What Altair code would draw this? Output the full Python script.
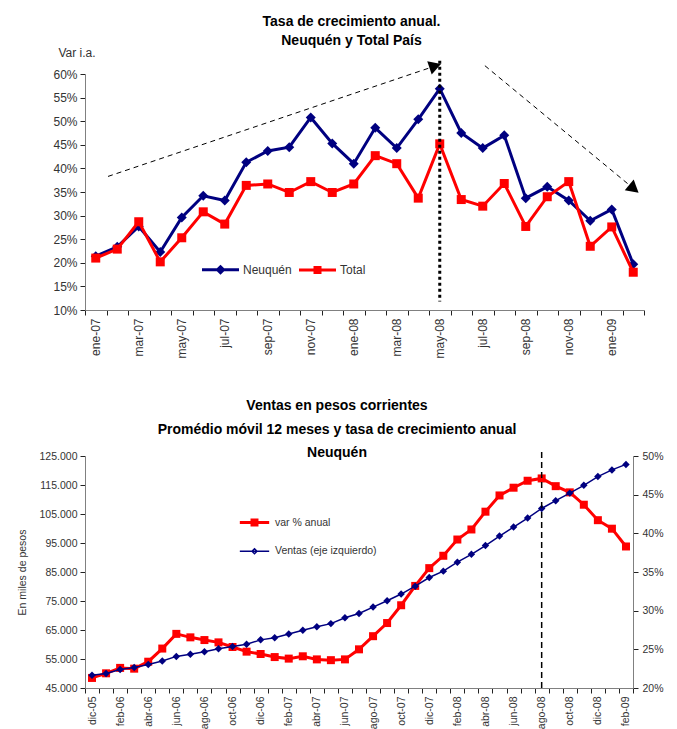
import json
import altair as alt
import pandas as pd

# ---------------- Top chart data ----------------
top_months = ["ene-07", "feb-07", "mar-07", "abr-07", "may-07", "jun-07", "jul-07", "ago-07",
              "sep-07", "oct-07", "nov-07", "dic-07", "ene-08", "feb-08", "mar-08", "abr-08",
              "may-08", "jun-08", "jul-08", "ago-08", "sep-08", "oct-08", "nov-08", "dic-08",
              "ene-09", "feb-09"]
top_tick_labels = ["ene-07", "mar-07", "may-07", "jul-07", "sep-07", "nov-07", "ene-08",
                   "mar-08", "may-08", "jul-08", "sep-08", "nov-08", "ene-09"]
neuquen = [21.4, 23.4, 27.7, 22.3, 29.6, 34.2, 33.2, 41.3, 43.7, 44.5, 50.8, 45.3, 41.0,
           48.6, 44.3, 50.4, 56.9, 47.5, 44.3, 47.0, 33.7, 36.1, 33.2, 28.9, 31.3, 19.7]
total_pais = [21.0, 22.9, 28.7, 20.2, 25.3, 30.8, 28.2, 36.4, 36.7, 34.9, 37.2, 34.9, 36.7,
              42.7, 41.0, 33.7, 45.2, 33.4, 32.0, 36.8, 27.7, 34.0, 37.2, 23.5, 27.6, 18.0]
top_series = ["Neuquén", "Total"]
top_y_ticks = [10, 15, 20, 25, 30, 35, 40, 45, 50, 55, 60]

# trend arrows (x in month units 0..26, y in %)
arrow_x = [1.07, 18.6]
arrow_y = [38.3, 61.76]
arrow_x2 = [16.29, 25.53]
arrow_y2 = [61.7, 35.68]
peak_x = [16.5]
peak_y = [62.8]
peak_y2 = [11.8]

# ---------------- Bottom chart data ----------------
bot_months = ["dic-05",
              "ene-06", "feb-06", "mar-06", "abr-06", "may-06", "jun-06", "jul-06", "ago-06",
              "sep-06", "oct-06", "nov-06", "dic-06",
              "ene-07", "feb-07", "mar-07", "abr-07", "may-07", "jun-07", "jul-07", "ago-07",
              "sep-07", "oct-07", "nov-07", "dic-07",
              "ene-08", "feb-08", "mar-08", "abr-08", "may-08", "jun-08", "jul-08", "ago-08",
              "sep-08", "oct-08", "nov-08", "dic-08",
              "ene-09", "feb-09"]
bot_tick_labels = ["dic-05", "feb-06", "abr-06", "jun-06", "ago-06", "oct-06", "dic-06",
                   "feb-07", "abr-07", "jun-07", "ago-07", "oct-07", "dic-07", "feb-08",
                   "abr-08", "jun-08", "ago-08", "oct-08", "dic-08", "feb-09"]
ventas = [49400, 50000, 51400, 52100, 53100, 54300, 55900, 56600, 57500, 58500, 59300, 60100,
          61600, 62300, 63600, 64900, 66100, 67200, 69200, 70700, 72900, 75100, 77400, 80100,
          83100, 85300, 88400, 91100, 94100, 97400, 100500, 103600, 106900, 109600, 112200,
          114900, 117900, 120200, 122100]
var_anual = [21.3, 21.9, 22.6, 22.5, 23.4, 25.1, 27.0, 26.55, 26.2, 25.9, 25.3, 24.7, 24.4,
             24.0, 23.8, 24.1, 23.7, 23.6, 23.7, 25.0, 26.7, 28.4, 30.7, 33.2, 35.5, 37.1,
             39.2, 40.5, 42.8, 44.9, 45.9, 46.8, 47.1, 46.1, 45.3, 43.7, 41.7, 40.6, 38.3]
bot_series = ["var % anual", "Ventas (eje izquierdo)"]
left_ticks = [45000, 55000, 65000, 75000, 85000, 95000, 105000, 115000, 125000]
right_ticks = [20, 25, 30, 35, 40, 45, 50]
cut_month = ["ago-08"]
cut_y = [45000]
cut_y2 = [127500]

NAVY = "#000080"
RED = "#FF0000"
FONT = "Liberation Sans"
LABEL = "#333333"
AXIS = "#808080"

# ================= TOP CHART =================
df_top = pd.DataFrame({"mes": top_months, "neuquen": neuquen, "total": total_pais})
df_arrows = pd.DataFrame({"x": arrow_x, "y": arrow_y, "x2": arrow_x2, "y2": arrow_y2})
df_peak = pd.DataFrame({"x": peak_x, "y": peak_y, "y2": peak_y2})
df_up = df_arrows.iloc[[0]].assign(x=arrow_x2[0], y=arrow_y2[0])
df_dn = df_arrows.iloc[[1]].assign(x=arrow_x2[1], y=arrow_y2[1])

top_x_axis = alt.Axis(
    title=None, tickBand="extent", labelAngle=270, labelFontSize=12, labelColor=LABEL,
    labelExpr="indexof(%s, datum.value) >= 0 ? datum.value : ''" % json.dumps(top_tick_labels),
    domainColor=AXIS, tickColor="#222222", tickSize=5, labelPadding=3, grid=False)
top_x = alt.X("mes:N", scale=alt.Scale(type="band", domain=top_months, paddingInner=0,
                                        paddingOuter=0), axis=top_x_axis)
top_y_scale = alt.Scale(domain=[10, 60], nice=False, zero=False)
top_y_axis = alt.Axis(
    values=top_y_ticks, labelExpr="datum.value + '%'", title="Var i.a.", titleAngle=0,
    titleAlign="left", titleBaseline="middle", titleX=-27, titleY=-22, titleFontSize=12,
    titleFontWeight="normal", titleColor=LABEL, labelFontSize=12, labelColor=LABEL,
    domainColor=AXIS, tickColor="#222222", tickSize=5, grid=False, labelPadding=3)


def ytop(field):
    return alt.Y(f"{field}:Q", scale=top_y_scale, axis=top_y_axis)


base_top = alt.Chart(df_top)
n_line = base_top.mark_line(color=NAVY, strokeWidth=3).encode(x=top_x, y=ytop("neuquen"))
n_pts = base_top.mark_point(shape="diamond", filled=True, size=100, color=NAVY,
                            opacity=1).encode(x=top_x, y=ytop("neuquen"))
t_line = base_top.mark_line(color=RED, strokeWidth=3).encode(x=top_x, y=ytop("total"))
t_pts = base_top.mark_point(shape="square", filled=True, size=81, color=RED,
                            opacity=1).encode(x=top_x, y=ytop("total"))

top_legend = alt.Legend(title=None, orient="none", legendX=129, legendY=189,
                        direction="horizontal", symbolSize=100, symbolStrokeWidth=3,
                        labelFontSize=12, labelColor=LABEL, labelOffset=16, padding=0,
                        columnPadding=1, labelFont=FONT)
top_paths = ["M-3.7,0L3.7,0M0,-0.6L0.6,0L0,0.6L-0.6,0Z",
             "M-3.7,0L3.7,0M-0.5,-0.5L0.5,-0.5L0.5,0.5L-0.5,0.5Z"]
top_carrier = alt.Chart(pd.DataFrame({"serie": top_series})).mark_point(
    filled=True, opacity=0, strokeWidth=3).encode(
    fill=alt.Fill("serie:N", scale=alt.Scale(domain=top_series, range=[NAVY, RED]),
                  legend=top_legend),
    stroke=alt.Stroke("serie:N", scale=alt.Scale(domain=top_series, range=[NAVY, RED]),
                      legend=top_legend),
    shape=alt.Shape("serie:N", scale=alt.Scale(domain=top_series, range=top_paths),
                    legend=top_legend),
)

qx = alt.X("x:Q", scale=alt.Scale(domain=[0, 26], nice=False, zero=False), axis=None)
arrows = alt.Chart(df_arrows).mark_rule(color="black", strokeWidth=1,
                                        strokeDash=[5, 4]).encode(
    x=qx, y=ytop("y"), x2="x2:Q", y2="y2:Q")
head_up = alt.Chart(df_up).mark_point(shape="triangle-up", filled=True, size=196,
                                      color="black", opacity=1, angle=71.4).encode(
    x=qx, y=ytop("y"))
head_dn = alt.Chart(df_dn).mark_point(shape="triangle-up", filled=True, size=196,
                                      color="black", opacity=1, angle=129.6).encode(
    x=qx, y=ytop("y"))
peak = alt.Chart(df_peak).mark_rule(color="black", strokeWidth=3,
                                    strokeDash=[3, 3]).encode(x=qx, y=ytop("y"), y2="y2:Q")

band_group = alt.layer(n_line, n_pts, t_line, t_pts, top_carrier)
annot_group = alt.layer(peak, arrows, head_up, head_dn)
top = alt.layer(band_group, annot_group).resolve_scale(x="independent").properties(
    width=559, height=236,
    title=alt.Title(["Tasa de crecimiento anual.", "Neuquén y Total País"], fontSize=14,
                    fontWeight="bold", lineHeight=19, anchor="middle", offset=-2, dx=-13,
                    font=FONT, color="black"))

# ================= BOTTOM CHART =================
df_bot = pd.DataFrame({"mes": bot_months, "ventas": ventas, "var": var_anual})
df_cut = pd.DataFrame({"mes": cut_month, "y": cut_y, "y2": cut_y2})

bot_x_axis = alt.Axis(
    title=None, tickBand="extent", labelAngle=270, labelFontSize=10.5, labelColor=LABEL,
    labelExpr="indexof(%s, datum.value) >= 0 ? datum.value : ''" % json.dumps(bot_tick_labels),
    domainColor=AXIS, tickColor="#222222", tickSize=5, labelPadding=3, grid=False)
bot_x = alt.X("mes:N", scale=alt.Scale(type="band", domain=bot_months, paddingInner=0,
                                        paddingOuter=0), axis=bot_x_axis)
left_axis = alt.Axis(
    orient="left", values=left_ticks,
    labelExpr="replace(format(datum.value, ',.0f'), ',', '.')", title="En miles de pesos",
    titleFontSize=10.5, titleFontWeight="normal", titleColor=LABEL, titlePadding=12,
    labelFontSize=10.5, labelColor=LABEL, domainColor=AXIS, tickColor="#222222",
    tickSize=5, grid=False, labelPadding=3)
left_scale = alt.Scale(domain=[45000, 125000], nice=False, zero=False)
right_axis = alt.Axis(
    orient="right", values=right_ticks, labelExpr="datum.value + '%'", title=None,
    labelFontSize=10.5, labelColor=LABEL, domainColor=AXIS, tickColor="#222222",
    tickSize=5, grid=False, labelPadding=4)
right_scale = alt.Scale(domain=[20, 50], nice=False, zero=False)

base_bot = alt.Chart(df_bot)
r_line = base_bot.mark_line(color=RED, strokeWidth=3).encode(
    x=bot_x, y=alt.Y("var:Q", scale=right_scale, axis=right_axis))
r_pts = base_bot.mark_point(shape="square", filled=True, size=64, color=RED,
                            opacity=1).encode(
    x=bot_x, y=alt.Y("var:Q", scale=right_scale, axis=right_axis))
b_line = base_bot.mark_line(color=NAVY, strokeWidth=1.5).encode(
    x=bot_x, y=alt.Y("ventas:Q", scale=left_scale, axis=left_axis))
b_pts = base_bot.mark_point(shape="diamond", filled=True, size=56, color=NAVY,
                            opacity=1).encode(
    x=bot_x, y=alt.Y("ventas:Q", scale=left_scale, axis=left_axis))
cut = alt.Chart(df_cut).mark_rule(color="black", strokeWidth=1.5,
                                  strokeDash=[6, 4]).encode(
    x=alt.X("mes:N", scale=alt.Scale(type="band", domain=bot_months, paddingInner=0,
                                     paddingOuter=0), axis=bot_x_axis, bandPosition=0.5),
    y=alt.Y("y:Q", scale=left_scale, axis=left_axis), y2="y2:Q")

bot_legend = alt.Legend(title=None, orient="none", legendX=164, legendY=61,
                        direction="vertical", symbolSize=64, labelFontSize=10.5,
                        labelColor=LABEL, labelOffset=15, padding=0, rowPadding=14,
                        labelFont=FONT)
bot_paths = ["M-3.67,0L3.67,0M-0.62,-0.62L0.62,-0.62L0.62,0.62L-0.62,0.62Z",
             "M-3.67,0L3.67,0M0,-0.62L0.62,0L0,0.62L-0.62,0Z"]
bot_carrier = alt.Chart(pd.DataFrame({"serie": bot_series})).mark_point(
    filled=True, opacity=0).encode(
    fill=alt.Fill("serie:N", scale=alt.Scale(domain=bot_series, range=[RED, NAVY]),
                  legend=bot_legend),
    stroke=alt.Stroke("serie:N", scale=alt.Scale(domain=bot_series, range=[RED, NAVY]),
                      legend=bot_legend),
    shape=alt.Shape("serie:N", scale=alt.Scale(domain=bot_series, range=bot_paths),
                    legend=bot_legend),
    strokeWidth=alt.StrokeWidth("serie:N", scale=alt.Scale(domain=bot_series, range=[3, 1.5]),
                                legend=bot_legend),
)

red_group = alt.layer(r_line, r_pts, bot_carrier)
blue_group = alt.layer(b_line, b_pts, cut)
bottom = alt.layer(red_group, blue_group).resolve_scale(y="independent").properties(
    width=548, height=232,
    title=alt.Title(["Ventas en pesos corrientes",
                     "Promédio móvil 12 meses y tasa de crecimiento anual", "Neuquén"],
                    fontSize=14, fontWeight="bold", lineHeight=23.5, anchor="middle",
                    offset=-12, dx=-22, font=FONT, color="black"))

chart = alt.vconcat(top, bottom, spacing=40).resolve_scale(
    fill="independent", stroke="independent", shape="independent",
    strokeWidth="independent").resolve_legend(
    fill="independent", stroke="independent", shape="independent",
    strokeWidth="independent").properties(
    padding={"left": 9, "top": 7, "right": 5, "bottom": 0}
).configure(font=FONT).configure_view(stroke=None).configure_axis(
    labelFont=FONT, titleFont=FONT)

chart.save("out.html", embed_options={"renderer": "svg", "actions": False})
